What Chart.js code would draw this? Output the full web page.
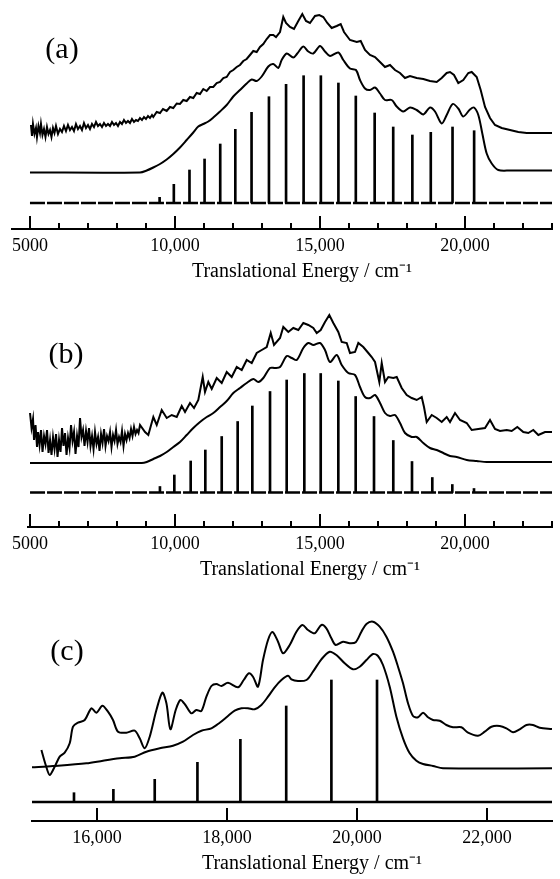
<!DOCTYPE html>
<html><head><meta charset="utf-8">
<script src="https://cdn.jsdelivr.net/npm/chart.js@4.4.1/dist/chart.umd.min.js"></script>
<style>
html,body{margin:0;padding:0;background:#fff;}
body{width:560px;height:879px;position:relative;overflow:hidden;}
canvas{position:absolute;left:0;}
</style></head><body>
<canvas id="ca" width="560" height="290" style="top:0px"></canvas>
<canvas id="cb" width="560" height="295" style="top:290px"></canvas>
<canvas id="cc" width="560" height="294" style="top:585px"></canvas>
<script>
// ---------- Panel (a) ----------
const aExpE = [5034,5069,5103,5155,5207,5241,5293,5345,5379,5431,5483,5534,5586,5638,5690,5741,5793,5845,5897,5966,6034,6103,6172,6241,6310,6379,6448,6517,6586,6655,6724,6793,6862,6931,7000,7069,7138,7207,7276,7345,7414,7483,7552,7621,7690,7759,7828,7897,7966,8034,8103,8172,8241,8310,8379,8448,8517,8586,8655,8724,8793,8862,8931,9000,9069,9138,9207,9252,9369,9483,9586,9714,9828,9941,10059,10172,10286,10403,10517,10631,10748,10862,10976,11093,11207,11321,11438,11552,11666,11783,11897,12010,12128,12241,12355,12472,12586,12700,12817,12931,13045,13162,13276,13390,13483,13621,13734,13828,13966,14103,14252,14390,14517,14655,14828,14976,15114,15252,15403,15576,15714,15828,16034,16266,16403,16552,16724,16897,17069,17241,17414,17586,17759,17931,18103,18334,18562,18793,19024,19197,19369,19483,19621,19769,19941,20114,20231,20403,20541,20690,20862,21034,21265,21552,21838,22128,22586,23000];
const aExpI = [8,-3,9,-1,5,-4,7,0,9,-2,4,-4,6,-1,3,-4,5,0,7,-1,4,1,7,2,8,3,6,2,9,4,7,3,10,5,8,4,9,6,11,7,9,6,10,7,9,7,11,8,10,7,11,9,13,10,12,10,14,11,13,12,15,13,16,14,17,15,18,16,21,20,24,22,26,25,29.5,29,33,32,36,35,40,39,44,42,46,46,50,51,55,56,61,63,66,68,72,74,78,82,81,86,89,94,98,98,96,101,116,110,106,104,112,119,112,110,117,118,116,110,105,107,109,101,93,91,92,83,78,76,71,66,68,63,60,55,57,55,54,52,51,55,60,61,58,50,53,60,61,56,43,26,15,8,5,3,1,0,0,0];
const aSimE = [5000,8793,9024,9252,9483,9714,9941,10172,10403,10631,10803,10976,11148,11321,11552,11783,12010,12241,12472,12645,12817,12990,13217,13390,13562,13679,13852,14079,14217,14424,14597,14769,15000,15172,15345,15631,15803,16034,16241,16379,16552,16724,16897,17069,17241,17472,17645,17872,18103,18334,18562,18793,18966,19197,19369,19576,19769,19941,20172,20310,20459,20597,20748,20921,21148,21552,23000];
const aSimI = [0,0,2,5,8.5,13,18.5,25,32.5,40,46,48.5,51,55,61,67.5,76,82.5,89,93,91.5,96,106,108.5,104.5,112.5,119,115,119,126,121,119,126.5,121,116.5,120,112.5,104,102.5,92.5,84,82.5,85,79,72.5,72.5,66,61,65,62.5,58,65,61,49,57.5,68.5,64,56,63,65,57.5,39,19,9,2.5,2,2];
const aStickE = [9470,9960,10500,11020,11560,12080,12640,13240,13830,14435,15030,15635,16235,16885,17525,18185,18820,19570,20315];
const aStickI = [5.7,18.7,33,44,59,73.7,90.7,106.3,118.7,127.3,127.3,120,107,90,76,68,70.7,76,72.3];

// ---------- Panel (b) ----------
const bExpE = [5000,5052,5103,5138,5190,5241,5276,5328,5379,5431,5483,5534,5586,5638,5690,5741,5793,5845,5897,5948,6000,6052,6103,6155,6207,6259,6310,6362,6414,6466,6517,6569,6621,6672,6724,6776,6828,6879,6931,6983,7034,7086,7138,7190,7241,7293,7345,7397,7448,7500,7552,7603,7655,7707,7759,7810,7862,7914,7966,8017,8069,8121,8172,8224,8276,8328,8379,8431,8483,8534,8586,8638,8690,8741,8793,8966,9079,9252,9369,9541,9714,9886,10059,10231,10345,10517,10655,10803,10955,11034,11148,11266,11438,11610,11783,11955,12128,12300,12472,12645,12817,12990,13162,13300,13414,13621,13734,13907,14079,14252,14424,14597,14769,14886,15024,15172,15321,15459,15631,15748,15921,16034,16207,16321,16493,16666,16783,16897,17045,17128,17241,17355,17528,17645,17817,17990,18162,18334,18507,18586,18679,18852,19024,19197,19369,19483,19655,19828,20059,20231,20459,20690,20862,21034,21207,21438,21610,21804,22011,22183,22355,22528,22759,23000];
const bExpI = [19,4,13,-8,7,-15,0,-13,2,-20,-4,-12,2,-21,-8,-23,-5,-17,-2,-25,-8,-20,4,-14,-1,-23,-6,-16,7,-9,0,-22,-4,-15,14,-5,2,-14,1,-10,4,-14,-4,-17,0,-12,-5,-19,-2,-11,3,-14,-4,-9,0,-15,-3,-9,2,-12,-5,-10,1,-14,-2,-8,-1,-6,3,-4,5,-2,2,-1,7,0,-3,15,7,22,14,17,15,26,20,29,24,32,55,40,50,43,54,49,60,55,65,62,72,69,79,82,85,99,87,94,105,100,104,102,109,107,104,99,102,110,117,109,100,90,89,79,80,89,85,79,75,70,50,69,50,55,54,55,44,37,34,32,35,25,10,17,14,10,15,10,19,12,9,2,3,4,12,3,1,2,1,5,0,-1,2,-3,0,0];
const bSimE = [5000,8852,9024,9252,9483,9714,9941,10172,10403,10631,10862,11093,11321,11552,11783,12010,12241,12472,12700,12872,13045,13276,13448,13621,13852,14024,14197,14424,14597,14769,15000,15172,15345,15576,15748,15976,16207,16379,16552,16724,16897,17069,17241,17414,17586,17759,17931,18162,18334,18562,18793,19024,19252,19483,19714,20059,20403,20748,23000];
const bSimI = [0,0,1,4,7,11,16,21,28,35,41,46,50,56,62,70,75,80,84,81,85,95,95,96,107,105,103,115,120,118,120,113,101,108,98,90,88,76,66,65,68,60,50,47,48,40,30,26,26,20,15,13,10,7,6,3,2,1,1];
const bStickE = [9480,9976,10540,11045,11610,12160,12666,13276,13851,14459,15024,15631,16230,16862,17527,18172,18872,19562,20310];
const bStickI = [6,17.5,31.5,42.5,56,71,86.5,101,112.5,119,119,111.5,96,76,52,31,15,8,4];

// ---------- Panel (c) ----------
const cExpE = [15145,15211,15272,15349,15426,15503,15580,15631,15708,15811,15914,15991,16083,16169,16246,16323,16452,16580,16657,16734,16811,16914,17006,17068,17129,17211,17283,17360,17452,17529,17606,17683,17760,17837,17914,18015,18169,18257,18338,18400,18477,18554,18631,18699,18785,18862,18965,19068,19160,19246,19349,19452,19529,19606,19672,19785,19888,19980,20068,20145,20246,20349,20452,20554,20631,20708,20785,20862,20939,21016,21092,21169,21272,21375,21477,21606,21708,21862,21965,22068,22196,22299,22400,22503,22606,22708,22811,23000];
const cExpI = [-23,-38,-48,-39.7,-29.7,-25.7,-16.3,0.3,4.3,7,18.7,14.3,21.3,15.3,7,-4.7,-5.7,-3.7,-11.3,-21.3,-9.7,17,34.3,23.7,-2.3,17,27,22,13.7,17,16,30.3,41,43,41,44.3,39.7,47,53.7,50.3,40.3,67,87,95,85.3,73.7,82,95.3,102,97,93.7,102,98.7,88.7,82,85.3,83.7,84.7,95.3,103,105.3,100.3,90.3,75.3,60.3,43.7,23.7,11,9.7,14.3,9.7,7,6.3,2,-0.3,-0.3,-5.7,-8.7,-4.7,0.3,1,-1.3,-5.3,-2.3,2,2,-0.7,-2];
const cSimE = [15000,15323,15837,16092,16349,16580,16760,16965,17169,17323,17477,17606,17760,17888,18015,18118,18222,18323,18426,18529,18631,18734,18837,18939,18991,19092,19222,19323,19452,19580,19683,19811,19938,20042,20145,20246,20323,20400,20503,20606,20708,20811,20914,21016,21169,21323,23000];
const cSimI = [1,2.3,5,7.6,10,11.6,16.6,20,22.6,26.6,33.3,37.6,40,45.6,52.3,57.6,60,60,59,63.3,71.6,81,88.3,92.6,89,87.3,88.3,96.6,109,116.6,113.3,105,99,101.6,108.3,114.3,112.3,103.3,81.6,51.6,30,15,7.6,4.3,2.3,0,0];
const cStickE = [15646,16252,16888,17545,18206,18911,19606,20308];
const cStickI = [9.3,12.7,22.7,39.7,62.7,96,122,122];

// ---------- Axis ticks / labels ----------
const abTickValues = [5000,6000,7000,8000,9000,10000,11000,12000,13000,14000,15000,16000,17000,18000,19000,20000,21000,22000,23000];
const abLabelValues = [5000,10000,15000,20000];
const abLabels = ['5000','10,000','15,000','20,000'];
const cTickValues = [16000,18000,20000,22000];
const cLabelValues = [16000,18000,20000,22000];
const cLabels = ['16,000','18,000','20,000','22,000'];
const axisTitle = '\u2002\u2002\u2002\u2002Translational Energy / cm\u207B\u00B9';
const panelNames = ['(a)','(b)','(c)'];

// ---------- rendering ----------
const FONT = '"Liberation Serif", "Times New Roman", serif';
function pts(E, I, off){ return E.map((e,i)=>({x:e, y:I[i]+off})); }
function sticks(E, I, off){ return E.map((e,i)=>({x:e, y:[off, off+I[i]]})); }

const upTicks = {
  id:'upTicks',
  afterDatasetsDraw(chart, args, o){
    const xs = chart.scales.x, ctx = chart.ctx, yb = chart.chartArea.bottom;
    ctx.save(); ctx.strokeStyle = '#000'; ctx.lineWidth = 2;
    o.values.forEach(v=>{
      const px = Math.round(xs.getPixelForValue(v));
      const len = o.major.indexOf(v) >= 0 ? o.majorLen : o.minorLen;
      ctx.beginPath(); ctx.moveTo(px, yb); ctx.lineTo(px, yb-len); ctx.stroke();
    });
    ctx.restore();
  }
};
const panelLabel = {
  id:'panelLabel',
  afterDraw(chart, args, o){
    const ctx = chart.ctx; ctx.save();
    ctx.font = o.size + 'px ' + FONT; ctx.fillStyle = '#000';
    ctx.textAlign = 'center'; ctx.textBaseline = 'middle';
    ctx.fillText(o.text, o.x, o.y); ctx.restore();
  }
};

function buildPanel(id, p){
  const lineBase = {type:'line', borderColor:'#000', pointRadius:0, fill:false};
  const datasets = [
    Object.assign({}, lineBase, {data: pts(p.expE, p.expI, p.expOff), borderWidth:2, tension:p.expTension}),
    Object.assign({}, lineBase, {data: pts(p.simE, p.simI, p.simOff), borderWidth:2, tension:0.3}),
    {type:'bar', data: sticks(p.stickE, p.stickI, p.stickOff), backgroundColor:'#000', borderWidth:0, barThickness:2, grouped:false},
    Object.assign({}, lineBase, {data:[{x:p.baseFrom, y:p.stickOff},{x:p.xMax, y:p.stickOff}], borderWidth:2.5, borderDash:p.baseDash, tension:0})
  ];
  new Chart(document.getElementById(id), {
    type:'line',
    data:{datasets},
    plugins:[upTicks, panelLabel],
    options:{
      responsive:false, animation:false, devicePixelRatio:1,
      layout:{autoPadding:false, padding:{left:p.padLeft, right:8, top:0, bottom:p.padBottom}},
      plugins:{
        legend:{display:false}, tooltip:{enabled:false},
        upTicks:{values:p.tickValues, major:p.majorValues, majorLen:13, minorLen:6},
        panelLabel:{text:p.name, x:p.labelX, y:p.labelY, size:30}
      },
      scales:{
        x:{
          type:'linear', min:p.xMin, max:p.xMax, offset:false,
          grid:{display:false, drawTicks:false},
          border:{display:true, color:'#000', width:2},
          afterBuildTicks: s => { s.ticks = p.labelValues.map(v=>({value:v})); },
          afterFit: s => { s.height = 58; },
          ticks:{autoSkip:false, maxRotation:0, padding:6, color:'#000',
            font:{family:FONT, size:18},
            callback: v => { const k = p.labelValues.indexOf(v); return k >= 0 ? p.labels[k] : ''; }},
          title:{display:true, text:axisTitle, color:'#000', font:{family:FONT, size:20}, padding:{top:0, bottom:3}}
        },
        y:{type:'linear', display:false, min:0, max:p.yMax}
      }
    }
  });
}

buildPanel('ca', {
  name:panelNames[0], labelX:62, labelY:50,
  expE:aExpE, expI:aExpI, expOff:96, expTension:0,
  simE:aSimE, simI:aSimI, simOff:56.5,
  stickE:aStickE, stickI:aStickI, stickOff:26, baseFrom:5000, baseDash:[15,2],
  xMin:4380, xMax:23000, yMax:229, padLeft:12, padBottom:3,
  tickValues:abTickValues, majorValues:abLabelValues, labelValues:abLabelValues, labels:abLabels
});
buildPanel('cb', {
  name:panelNames[1], labelX:66, labelY:65,
  expE:bExpE, expI:bExpI, expOff:95, expTension:0,
  simE:bSimE, simI:bSimI, simOff:64,
  stickE:bStickE, stickI:bStickI, stickOff:34.5, baseFrom:5000, baseDash:[15,2],
  xMin:4930, xMax:23000, yMax:237, padLeft:28, padBottom:0,
  tickValues:abTickValues, majorValues:abLabelValues, labelValues:abLabelValues, labels:abLabels
});
buildPanel('cc', {
  name:panelNames[2], labelX:67, labelY:67,
  expE:cExpE, expI:cExpI, expOff:94, expTension:0.3,
  simE:cSimE, simI:cSimI, simOff:52.7,
  stickE:cStickE, stickI:cStickI, stickOff:19, baseFrom:15000, baseDash:[],
  xMin:15000, xMax:23000, yMax:236, padLeft:32, padBottom:0,
  tickValues:cTickValues, majorValues:cLabelValues, labelValues:cLabelValues, labels:cLabels
});
</script></body></html>
